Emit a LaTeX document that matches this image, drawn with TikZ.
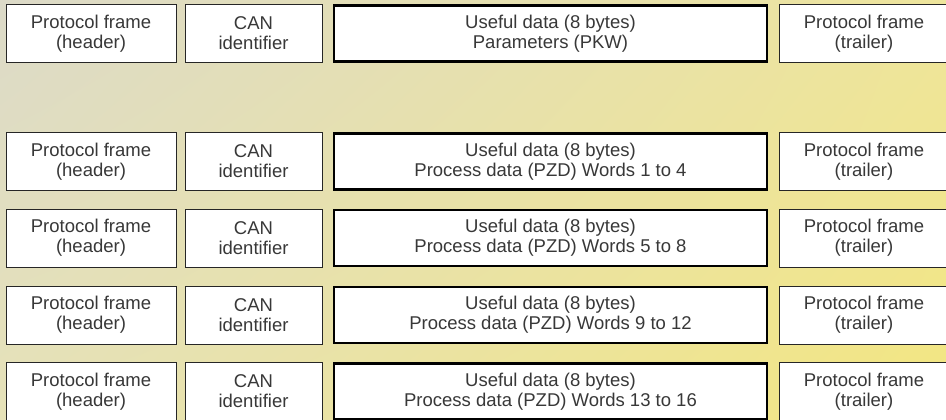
\documentclass[tikz,border=0pt]{standalone}
\usepackage{fontspec}
\setmainfont{Liberation Sans}
\usetikzlibrary{shadows,shadings}
\definecolor{bgTL}{HTML}{DCDAC8}
\definecolor{bgTR}{HTML}{EEE59C}
\definecolor{bgBL}{HTML}{E6E2B8}
\definecolor{bgBR}{HTML}{F3E680}
\definecolor{txt}{HTML}{383838}
\begin{document}
\begin{tikzpicture}[x=1pt,y=-1pt,
  cell/.style={draw=black!85, line width=0.8pt, fill=white, inner sep=0pt,
    minimum height=58pt, align=center, text=txt,
    font=\fontsize{18.5}{20}\selectfont,
    drop shadow={shadow xshift=0.9pt, shadow yshift=-0.9pt, fill=black!45, opacity=0.8}},
  sidecell/.style={cell, minimum width=170pt},
  idcell/.style={cell, minimum width=137pt},
  datacell/.style={cell, draw=black, line width=2.8pt, minimum width=433pt, minimum height=56pt}
]
\useasboundingbox (0,0) rectangle (946,420);
\clip (0,0) rectangle (946,420);
\shade[upper left=bgTL, upper right=bgTR, lower left=bgBL, lower right=bgBR] (0,0) rectangle (946,420);

% row 1
\node[sidecell] (h1) at (91,33.5) {Protocol frame\\(header)};
\node[idcell]   (i1) at (253.5,33.5) {CAN\\identifier};
\node[datacell] (d1) at (550.5,33.5) {Useful data (8 bytes)\\Parameters (PKW)};
\node[sidecell] (t1) at (864,33.5) {Protocol frame\\(trailer)};

% row 2
\node[sidecell] (h2) at (91,161.5) {Protocol frame\\(header)};
\node[idcell]   (i2) at (253.5,161.5) {CAN\\identifier};
\node[datacell] (d2) at (550.5,161.5) {Useful data (8 bytes)\\Process data (PZD) Words 1 to 4};
\node[sidecell] (t2) at (864,161.5) {Protocol frame\\(trailer)};

% row 3
\node[sidecell] (h3) at (91,238) {Protocol frame\\(header)};
\node[idcell]   (i3) at (253.5,238) {CAN\\identifier};
\node[datacell] (d3) at (550.5,238) {Useful data (8 bytes)\\Process data (PZD) Words 5 to 8};
\node[sidecell] (t3) at (864,238) {Protocol frame\\(trailer)};

% row 4
\node[sidecell] (h4) at (91,315) {Protocol frame\\(header)};
\node[idcell]   (i4) at (253.5,315) {CAN\\identifier};
\node[datacell] (d4) at (550.5,315) {Useful data (8 bytes)\\Process data (PZD) Words 9 to 12};
\node[sidecell] (t4) at (864,315) {Protocol frame\\(trailer)};

% row 5
\node[sidecell] (h5) at (91,391.5) {Protocol frame\\(header)};
\node[idcell]   (i5) at (253.5,391.5) {CAN\\identifier};
\node[datacell] (d5) at (550.5,391.5) {Useful data (8 bytes)\\Process data (PZD) Words 13 to 16};
\node[sidecell] (t5) at (864,391.5) {Protocol frame\\(trailer)};
\end{tikzpicture}
\end{document}
